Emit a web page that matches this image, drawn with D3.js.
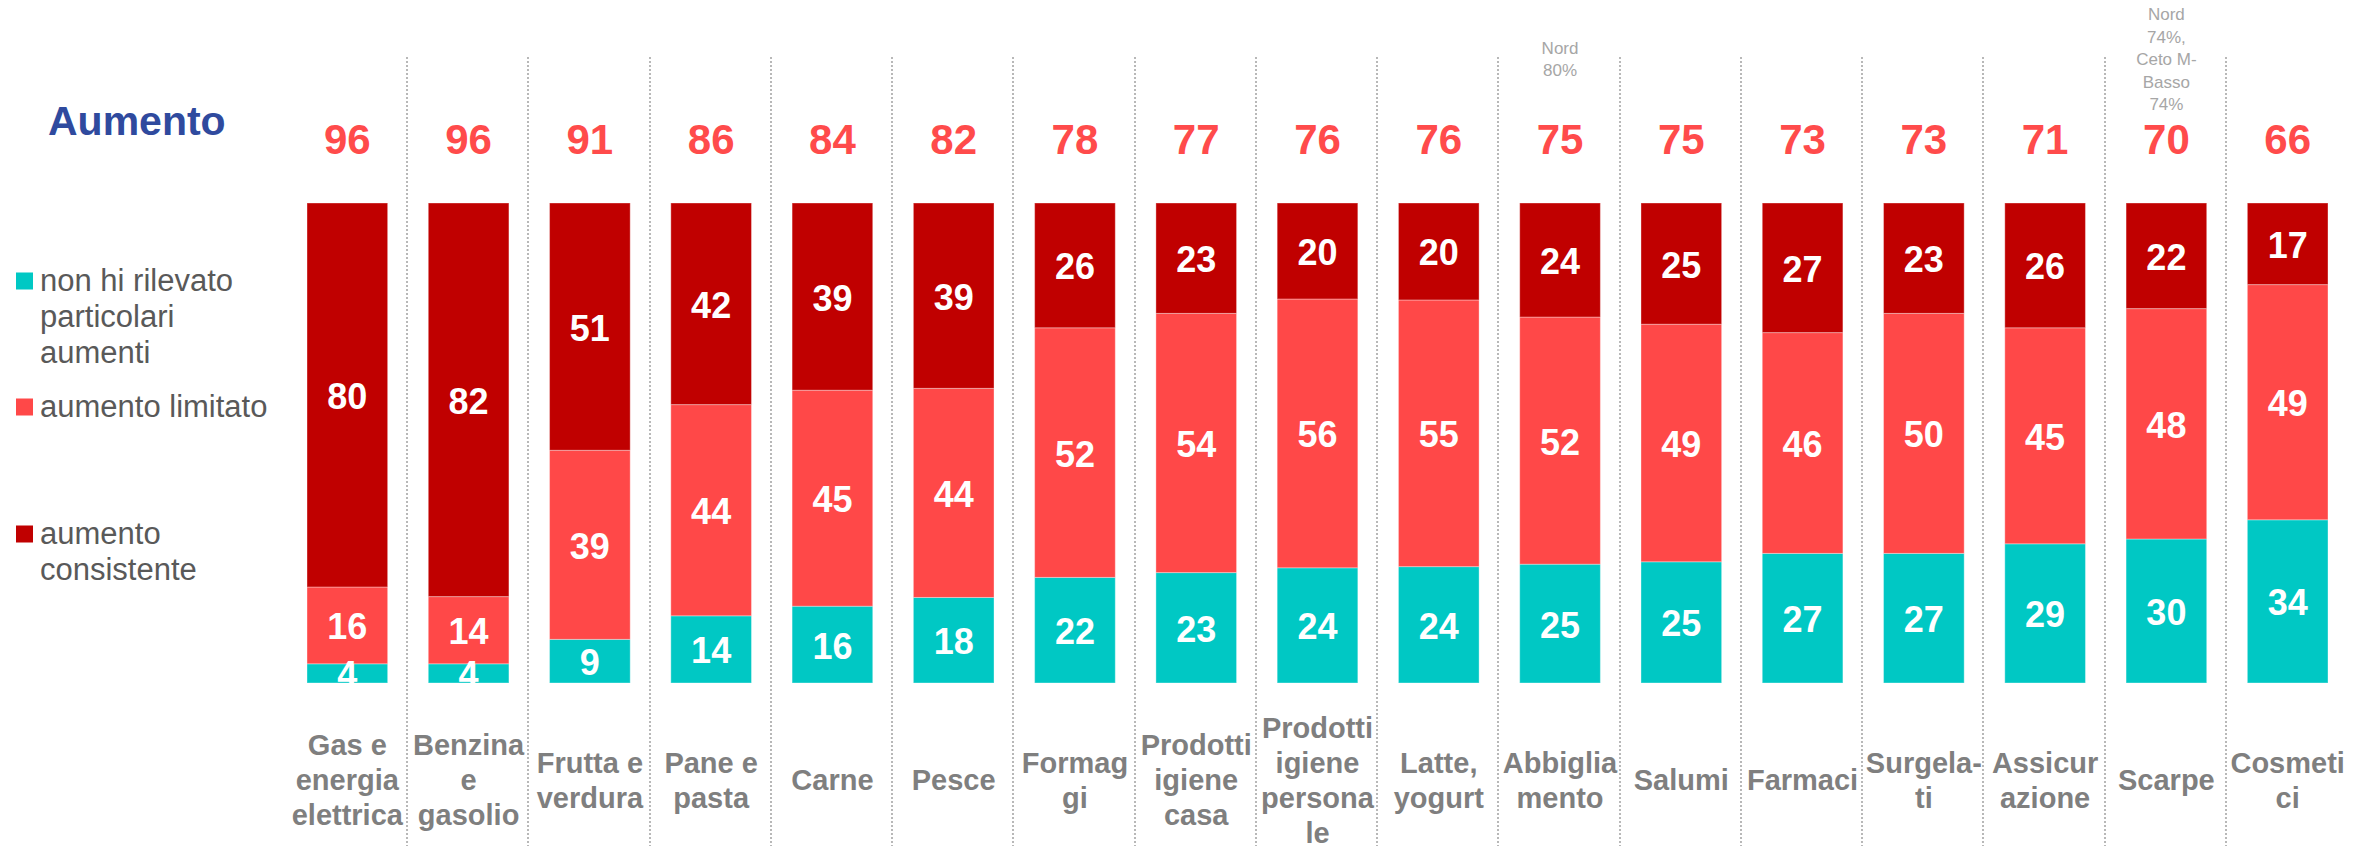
<!DOCTYPE html>
<html>
<head>
<meta charset="utf-8">
<script src="https://cdn.jsdelivr.net/npm/d3@7"></script>
<style>
  html, body { margin: 0; padding: 0; background: #fff; }
  svg { display: block; font-family: "Liberation Sans", Arial, sans-serif; }
</style>
</head>
<body>
<div id="chart"></div>
<script>
// categories, one entry per column (line breaks as in the original)
const categories = [
  ["Gas e", "energia", "elettrica"],
  ["Benzina", "e", "gasolio"],
  ["Frutta e", "verdura"],
  ["Pane e", "pasta"],
  ["Carne"],
  ["Pesce"],
  ["Formag", "gi"],
  ["Prodotti", "igiene", "casa"],
  ["Prodotti", "igiene", "persona", "le"],
  ["Latte,", "yogurt"],
  ["Abbiglia", "mento"],
  ["Salumi"],
  ["Farmaci"],
  ["Surgela-", "ti"],
  ["Assicur", "azione"],
  ["Scarpe"],
  ["Cosmeti", "ci"]
];

// series values (%)
const nonRilevato = [4, 4, 9, 14, 16, 18, 22, 23, 24, 24, 25, 25, 27, 27, 29, 30, 34];
const aumentoLimitato = [16, 14, 39, 44, 45, 44, 52, 54, 56, 55, 52, 49, 46, 50, 45, 48, 49];
const aumentoConsistente = [80, 82, 51, 42, 39, 39, 26, 23, 20, 20, 24, 25, 27, 23, 26, 22, 17];
const totaleAumento = [96, 96, 91, 86, 84, 82, 78, 77, 76, 76, 75, 75, 73, 73, 71, 70, 66];

// notes above some columns (column index -> lines)
const notes = [
  { col: 10, lines: ["Nord", "80%"] },
  { col: 15, lines: ["Nord", "74%,", "Ceto M-", "Basso", "74%"] }
];

const seriesKeys = ["non", "lim", "cons"];
const seriesNames = [
  ["non hi rilevato", "particolari", "aumenti"],
  ["aumento limitato"],
  ["aumento", "consistente"]
];
const seriesColors = ["#00C8C4", "#FF4848", "#C00000"];

const W = 2371, H = 846;
const plotTop = 203, plotBottom = 683;

const svg = d3.select("#chart").append("svg")
  .attr("width", W)
  .attr("height", H);

// table for the stack
const rows = categories.map((c, i) => ({
  idx: i,
  non: nonRilevato[i],
  lim: aumentoLimitato[i],
  cons: aumentoConsistente[i]
}));

const stack = d3.stack().keys(seriesKeys).offset(d3.stackOffsetExpand);
const layers = stack(rows);

const x = d3.scaleBand()
  .domain(d3.range(categories.length))
  .range([286.7, 2348.3])
  .paddingInner(0.335)
  .paddingOuter(0.1675);

const y = d3.scaleLinear().domain([0, 1]).range([plotBottom, plotTop]);

// dotted separators between columns
const step = x.step();
const sepX = (d) => Math.round(x(d) - (step - x.bandwidth()) / 2) - 1;
svg.append("g")
  .selectAll("line")
  .data(d3.range(1, categories.length))
  .enter()
  .append("line")
  .attr("x1", sepX)
  .attr("x2", sepX)
  .attr("y1", 57)
  .attr("y2", H)
  .attr("stroke", "#B8B8B8")
  .attr("stroke-width", 2)
  .attr("stroke-dasharray", "2,2");

// clip for labels inside bars
svg.append("defs").append("clipPath")
  .attr("id", "plotClip")
  .append("rect")
  .attr("x", 0)
  .attr("y", 0)
  .attr("width", W)
  .attr("height", plotBottom);

// bars
const layerG = svg.append("g")
  .selectAll("g")
  .data(layers)
  .enter()
  .append("g")
  .attr("fill", (d, i) => seriesColors[i]);

layerG.selectAll("rect")
  .data((d) => d)
  .enter()
  .append("rect")
  .attr("x", (d) => x(d.data.idx))
  .attr("y", (d) => y(d[1]))
  .attr("width", x.bandwidth())
  .attr("height", (d) => y(d[0]) - y(d[1]))
  .attr("stroke", "rgba(255,255,255,0.35)")
  .attr("stroke-width", 1);

// values inside bars
const valG = svg.append("g").attr("clip-path", "url(#plotClip)");
layers.forEach((layer) => {
  valG.selectAll(null)
    .data(layer)
    .enter()
    .append("text")
    .attr("x", (d) => x(d.data.idx) + x.bandwidth() / 2)
    .attr("y", (d) => (y(d[0]) + y(d[1])) / 2 + 14)
    .attr("text-anchor", "middle")
    .attr("fill", "#fff")
    .attr("font-weight", "bold")
    .attr("font-size", "36px")
    .text((d) => d.data[layer.key]);
});

// totals above bars
svg.append("g")
  .selectAll("text")
  .data(totaleAumento)
  .enter()
  .append("text")
  .attr("x", (d, i) => x(i) + x.bandwidth() / 2)
  .attr("y", plotTop - 49)
  .attr("text-anchor", "middle")
  .attr("fill", "#FF4B4B")
  .attr("font-weight", "bold")
  .attr("font-size", "42px")
  .text((d) => d);

// notes
notes.forEach((n) => {
  const lh = 22.5;
  const mid = 65;
  svg.append("text")
    .attr("text-anchor", "middle")
    .attr("fill", "#A6A6A6")
    .attr("font-size", "17px")
    .selectAll("tspan")
    .data(n.lines)
    .enter()
    .append("tspan")
    .attr("x", x(n.col) + x.bandwidth() / 2)
    .attr("y", (d, k) => mid + (k - (n.lines.length - 1) / 2) * lh)
    .text((d) => d);
});

// category labels
const catG = svg.append("g");
categories.forEach((lines, i) => {
  catG.append("text")
    .attr("text-anchor", "middle")
    .attr("fill", "#7F7F7F")
    .attr("font-weight", "bold")
    .attr("font-size", "29px")
    .selectAll("tspan")
    .data(lines)
    .enter()
    .append("tspan")
    .attr("x", x(i) + x.bandwidth() / 2)
    .attr("y", (d, k) => 790 + (k - (lines.length - 1) / 2) * 35)
    .text((d) => d);
});

// title
svg.append("text")
  .attr("x", 48)
  .attr("y", 135)
  .attr("fill", "#2F4A9E")
  .attr("font-weight", "bold")
  .attr("font-size", "41px")
  .text("Aumento");

// legend
const legendY = [291, 417, 544];
seriesNames.forEach((lines, i) => {
  svg.append("rect")
    .attr("x", 16)
    .attr("y", legendY[i] - 18.5)
    .attr("width", 17)
    .attr("height", 17)
    .attr("fill", seriesColors[i]);
  svg.append("text")
    .attr("fill", "#595959")
    .attr("font-size", "31px")
    .selectAll("tspan")
    .data(lines)
    .enter()
    .append("tspan")
    .attr("x", 40)
    .attr("y", (d, k) => legendY[i] + k * 36)
    .text((d) => d);
});
</script>
</body>
</html>
